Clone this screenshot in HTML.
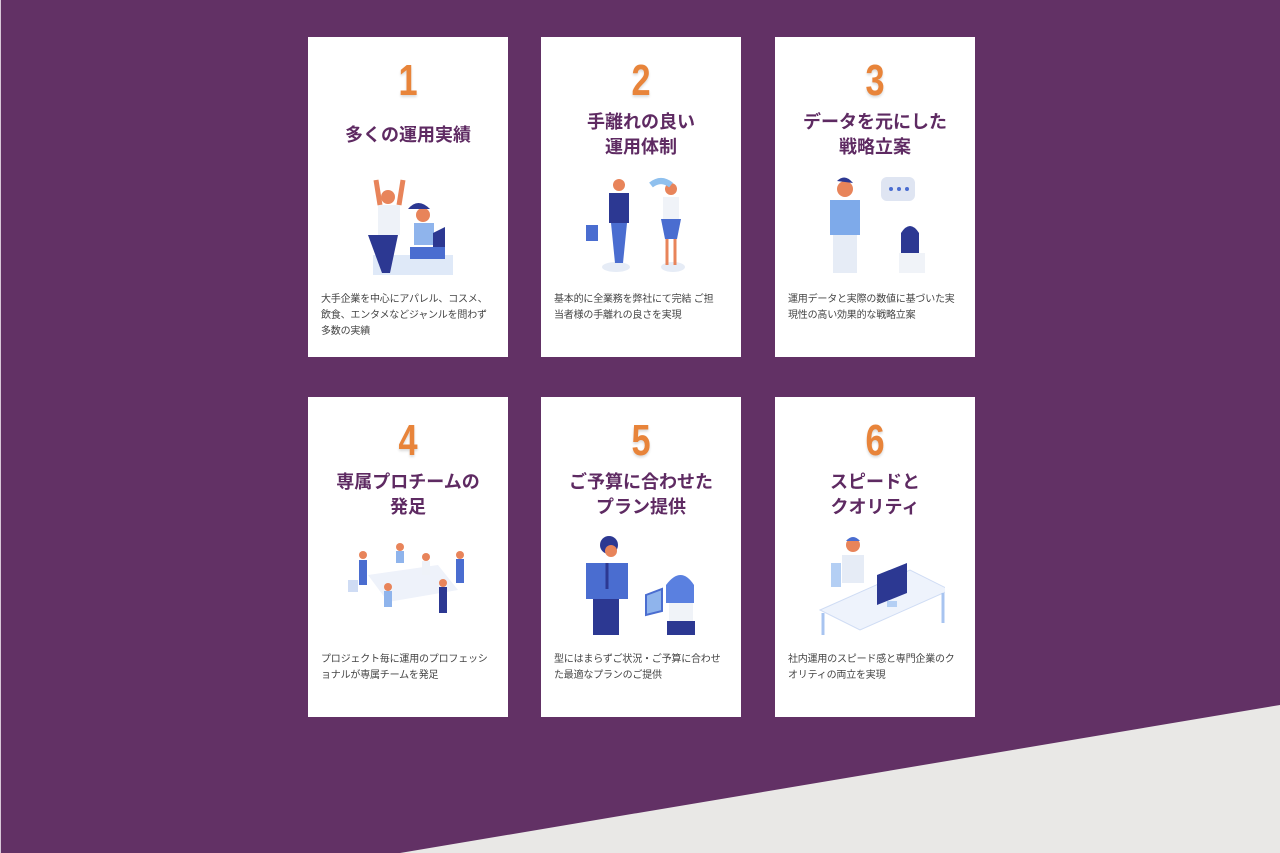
<!DOCTYPE html>
<html lang="ja"><head><meta charset="utf-8">
<style>
html,body{margin:0;padding:0}
body{width:1280px;height:853px;position:relative;overflow:hidden;background:#623165;font-family:"Liberation Sans","Noto Sans CJK JP",sans-serif}
.bg{position:absolute;left:0;top:0}
.card{position:absolute;width:200px;height:320px;background:#fff}
.num{position:absolute;left:0;width:200px;text-align:center;top:20px;font-size:44px;line-height:48px;color:#e8843a;font-weight:bold;transform:scaleX(.78);text-shadow:0 2px 3px rgba(0,0,0,.15)}
.title{position:absolute;left:0;width:200px;text-align:center;font-size:18px;line-height:25px;font-weight:bold;color:#5e2a62}
.ill{position:absolute;left:40px;top:138px;width:120px;height:100px}
.desc{position:absolute;left:13px;top:255px;width:168px;font-size:10px;line-height:16px;color:#444;letter-spacing:-.2px}
</style></head><body>
<svg class="bg" width="1280" height="853"><rect width="1280" height="853" fill="#623165"/><polygon points="1280,705 1280,853 400,853" fill="#e9e8e6"/><rect width="1" height="853" fill="#d8c8d8"/></svg>

<div class="card" style="left:308px;top:37px">
<div class="num">1</div>
<div class="title" style="top:86px">多くの運用実績</div>
<svg class="ill" viewBox="0 0 120 100"><rect x="25" y="80" width="80" height="20" fill="#dfe9f8"/><circle cx="40" cy="22" r="7" fill="#e8845a"/><path d="M30 30h22v30H30z" fill="#eef2f8"/><path d="M20 60h30l-8 38h-8z" fill="#2c3892"/><path d="M28 5l4 25M55 5l-4 25" stroke="#e8845a" stroke-width="5"/><circle cx="75" cy="40" r="7" fill="#e8845a"/><path d="M60 34q10-12 22 0" fill="#2c3892"/><path d="M66 48h20v22H66z" fill="#8fb4ec"/><path d="M85 58l12-6v20h-12z" fill="#2c3892"/><path d="M62 72h35v12H62z" fill="#4a6dd0"/></svg>
<div class="desc">大手企業を中心にアパレル、コスメ、飲食、エンタメなどジャンルを問わず多数の実績</div>
</div>

<div class="card" style="left:541px;top:37px">
<div class="num">2</div>
<div class="title" style="top:73px">手離れの良い<br>運用体制</div>
<svg class="ill" viewBox="0 0 120 100"><ellipse cx="35" cy="92" rx="14" ry="5" fill="#e6ecf6"/><ellipse cx="92" cy="92" rx="12" ry="5" fill="#e6ecf6"/><circle cx="38" cy="10" r="6" fill="#e8845a"/><path d="M28 18h20v30H28z" fill="#2c3892"/><path d="M30 48h16l-4 40h-8z" fill="#4a6dd0"/><rect x="5" y="50" width="12" height="16" fill="#4a6dd0"/><circle cx="90" cy="14" r="6" fill="#e8845a"/><path d="M70 10q10-8 20 0" stroke="#8fc0ee" stroke-width="6" fill="none"/><path d="M82 22h16v22H82z" fill="#f0f3f8"/><path d="M80 44h20l-4 20h-12z" fill="#4a6dd0"/><path d="M86 64v26M94 64v26" stroke="#e8845a" stroke-width="3"/></svg>
<div class="desc">基本的に全業務を弊社にて完結 ご担当者様の手離れの良さを実現</div>
</div>

<div class="card" style="left:775px;top:37px">
<div class="num">3</div>
<div class="title" style="top:73px">データを元にした<br>戦略立案</div>
<svg class="ill" viewBox="0 0 120 100"><circle cx="30" cy="14" r="8" fill="#e8845a"/><path d="M22 6q8-8 16 2" fill="#2c3892"/><path d="M15 25h30v35H15z" fill="#7eaaea"/><path d="M18 60h24v38H18z" fill="#e6ecf6"/><rect x="66" y="2" width="34" height="24" rx="6" fill="#dfe5f2"/><circle cx="76" cy="14" r="2" fill="#4a6dd0"/><circle cx="84" cy="14" r="2" fill="#4a6dd0"/><circle cx="92" cy="14" r="2" fill="#4a6dd0"/><circle cx="95" cy="60" r="7" fill="#e8845a"/><path d="M86 58q9-14 18 0v20h-18z" fill="#2c3892"/><path d="M84 78h26v20H84z" fill="#f0f3f8"/></svg>
<div class="desc">運用データと実際の数値に基づいた実現性の高い効果的な戦略立案</div>
</div>

<div class="card" style="left:308px;top:397px">
<div class="num">4</div>
<div class="title" style="top:73px">専属プロチームの<br>発足</div>
<svg class="ill" viewBox="0 0 120 100"><path d="M20 40l70-10 20 25-70 12z" fill="#eef2fa"/><circle cx="15" cy="20" r="4" fill="#e8845a"/><path d="M11 25h8v25h-8z" fill="#4a6dd0"/><circle cx="52" cy="12" r="4" fill="#e8845a"/><path d="M48 16h8v12h-8z" fill="#8fb4ec"/><circle cx="78" cy="22" r="4" fill="#e8845a"/><path d="M74 26h8v14h-8z" fill="#eef2f8"/><circle cx="112" cy="20" r="4" fill="#e8845a"/><path d="M108 24h8v24h-8z" fill="#4a6dd0"/><circle cx="95" cy="48" r="4" fill="#e8845a"/><path d="M91 52h8v26h-8z" fill="#2c3892"/><circle cx="40" cy="52" r="4" fill="#e8845a"/><path d="M36 56h8v16h-8z" fill="#8fb4ec"/><rect x="0" y="45" width="10" height="12" fill="#cfdcf4"/></svg>
<div class="desc">プロジェクト毎に運用のプロフェッショナルが専属チームを発足</div>
</div>

<div class="card" style="left:541px;top:397px">
<div class="num">5</div>
<div class="title" style="top:73px">ご予算に合わせた<br>プラン提供</div>
<svg class="ill" viewBox="0 0 120 100"><circle cx="28" cy="10" r="9" fill="#2c3892"/><circle cx="30" cy="16" r="6" fill="#e8845a"/><path d="M5 28h42v36H5z" fill="#4a6dd0"/><path d="M12 64h26v36H12z" fill="#2c3892"/><path d="M26 28v26" stroke="#2c3892" stroke-width="3"/><circle cx="100" cy="50" r="8" fill="#5a80e0"/><path d="M85 50q15-20 28 0v18h-28z" fill="#5a80e0"/><path d="M88 68h24v18H88z" fill="#f0f3f8"/><path d="M86 86h28v14H86z" fill="#2c3892"/><path d="M65 60l16-6v22l-16 4z" fill="#8fb4ec" stroke="#4a6dd0" stroke-width="2"/></svg>
<div class="desc">型にはまらずご状況・ご予算に合わせた最適なプランのご提供</div>
</div>

<div class="card" style="left:775px;top:397px">
<div class="num">6</div>
<div class="title" style="top:73px">スピードと<br>クオリティ</div>
<svg class="ill" viewBox="0 0 120 100" style="left:30px;width:140px"><path d="M5 75l90-40 40 20-90 40z" fill="#eef3fc" stroke="#cfdcf4"/><path d="M8 78v22M128 58v30" stroke="#a8c4f0" stroke-width="3"/><circle cx="38" cy="10" r="7" fill="#e8845a"/><path d="M31 6q7-8 14 0" fill="#4a6dd0"/><path d="M27 20h22v28H27z" fill="#e6ecf6"/><rect x="16" y="28" width="10" height="24" fill="#b4cff4"/><path d="M62 40l30-12v30l-30 12z" fill="#2c3892"/><path d="M72 66h10v6H72z" fill="#b4cff4"/></svg>
<div class="desc">社内運用のスピード感と専門企業のクオリティの両立を実現</div>
</div>
</body></html>
